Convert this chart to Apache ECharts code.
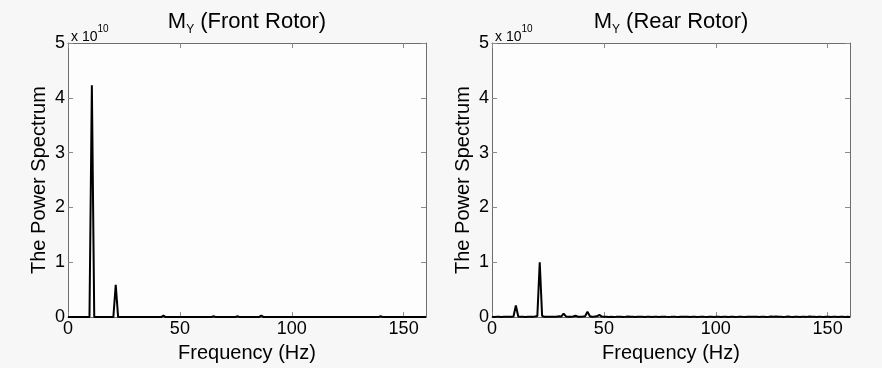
<!DOCTYPE html>
<html>
<head>
<meta charset="utf-8">
<script src="https://cdn.jsdelivr.net/npm/echarts@6/dist/echarts.min.js"></script>
<style>
  html, body { margin: 0; padding: 0; background: #f7f7f7; }
  #chart { width: 882px; height: 368px; }
</style>
</head>
<body>
<div id="chart"></div>
<script>
// frequency bins: 151 bins spanning 0..160 Hz
const binHz = 160 / 150;
const xTicks = [0, 50, 100, 150];
const yTicks = [0, 1, 2, 3, 4, 5];

// power spectrum in units of 1e10, one value per bin
const frontRotor = [
  0, 0, 0, 0, 0, 0, 0, 0, 0, 0,
  4.23, 0, 0, 0, 0, 0, 0, 0, 0, 0,
  0.59, 0, 0, 0, 0, 0, 0, 0, 0, 0,
  0, 0, 0, 0, 0, 0, 0, 0, 0, 0,
  0.025, 0, 0, 0, 0, 0, 0, 0, 0, 0,
  0, 0, 0, 0, 0, 0, 0, 0, 0, 0,
  0, 0.015, 0, 0, 0, 0, 0, 0, 0, 0,
  0, 0.015, 0, 0, 0, 0, 0, 0, 0, 0,
  0, 0.03, 0, 0, 0, 0, 0, 0, 0, 0,
  0, 0, 0, 0, 0, 0, 0, 0, 0, 0,
  0, 0, 0, 0, 0, 0, 0, 0, 0, 0,
  0, 0, 0, 0, 0, 0, 0, 0, 0, 0,
  0, 0, 0, 0, 0, 0, 0, 0, 0, 0,
  0, 0.015, 0, 0, 0, 0, 0, 0, 0, 0,
  0, 0, 0, 0, 0, 0, 0, 0, 0, 0,
  0
];

const rearRotor = [
  0.005, 0.004, 0.006, 0.005, 0.004, 0.005, 0.006, 0.005, 0.008, 0.012,
  0.21, 0.012, 0.006, 0.005, 0.004, 0.006, 0.005, 0.007, 0.01, 0.02,
  1.0, 0.02, 0.008, 0.006, 0.005, 0.007, 0.006, 0.008, 0.015, 0.01,
  0.065, 0.012, 0.006, 0.008, 0.01, 0.025, 0.008, 0.006, 0.01, 0.015,
  0.1, 0.015, 0.008, 0.01, 0.015, 0.04, 0.01, 0.006, 0.005, 0.004,
  0.006, 0.004, 0.005, 0.008, 0.006, 0.004, 0.005, 0.01, 0.006, 0.005,
  0.004, 0.008, 0.006, 0.005, 0.004, 0.006, 0.005, 0.004, 0.006, 0.005,
  0.004, 0.006, 0.008, 0.005, 0.004, 0.005, 0.007, 0.005, 0.004, 0.006,
  0.005, 0.008, 0.006, 0.004, 0.005, 0.006, 0.004, 0.005, 0.007, 0.005,
  0.004, 0.006, 0.005, 0.004, 0.006, 0.005, 0.004, 0.005, 0.006, 0.004,
  0.005, 0.006, 0.004, 0.005, 0.007, 0.005, 0.004, 0.006, 0.005, 0.008,
  0.006, 0.005, 0.004, 0.006, 0.005, 0.004, 0.006, 0.01, 0.008, 0.012,
  0.006, 0.005, 0.004, 0.006, 0.01, 0.005, 0.004, 0.006, 0.005, 0.004,
  0.005, 0.006, 0.004, 0.012, 0.006, 0.005, 0.004, 0.008, 0.005, 0.004,
  0.006, 0.005, 0.004, 0.006, 0.005, 0.004, 0.006, 0.005, 0.004, 0.005,
  0.004
];

const panels = [
  { title: 'Front Rotor', values: frontRotor, left: 68 },
  { title: 'Rear Rotor', values: rearRotor, left: 492 }
];

const FONT = 'Liberation Sans, Arial, sans-serif';
const frameColor = '#6e6e6e';
const tickColor = '#8a8a8a';

const option = {
  backgroundColor: '#f7f7f7',
  animation: false,
  textStyle: { fontFamily: FONT, color: '#000' },
  title: [],
  grid: [],
  xAxis: [],
  yAxis: [],
  series: []
};

panels.forEach((p, g) => {
  option.grid.push({
    left: p.left, top: 43, width: 358, height: 278,
    show: true, backgroundColor: '#fdfdfd', borderWidth: 0
  });

  // title M_Y (...)
  option.title.push({
    text: '{m|M}{s|Y}{m| (' + p.title + ')}',
    left: p.left + 174, top: 3, textAlign: 'center',
    textStyle: {
      rich: {
        m: { fontFamily: FONT, fontSize: 22, fontWeight: 'normal', lineHeight: 28, color: '#000' },
        s: { fontFamily: FONT, fontSize: 12, fontWeight: 'normal', lineHeight: 12, color: '#000', verticalAlign: 'bottom' }
      }
    }
  });
  // exponent marker
  option.title.push({
    text: '{a|x 10}{b|10}',
    left: p.left - 2, top: 19,
    textStyle: {
      rich: {
        a: { fontFamily: FONT, fontSize: 14, fontWeight: 'normal', lineHeight: 20, color: '#000', verticalAlign: 'bottom' },
        b: { fontFamily: FONT, fontSize: 10, fontWeight: 'normal', lineHeight: 10, color: '#000', verticalAlign: 'top' }
      }
    }
  });

  const lineStyle = { color: frameColor, width: 1 };
  option.xAxis.push({
    gridIndex: g, type: 'value', min: 0, max: 160, position: 'bottom',
    axisLine: { show: true, onZero: false, lineStyle },
    axisTick: { show: true, inside: true, length: 5, customValues: xTicks, lineStyle: { color: tickColor } },
    axisLabel: { customValues: xTicks, fontFamily: FONT, fontSize: 18, color: '#000', margin: 3 },
    splitLine: { show: false },
    name: 'Frequency (Hz)', nameLocation: 'middle', nameGap: 22,
    nameTextStyle: { fontFamily: FONT, fontSize: 20, color: '#000' }
  });
  option.xAxis.push({
    gridIndex: g, type: 'value', min: 0, max: 160, position: 'top',
    axisLine: { show: true, onZero: false, lineStyle },
    axisTick: { show: true, inside: true, length: 5, customValues: xTicks, lineStyle: { color: tickColor } },
    axisLabel: { show: false },
    splitLine: { show: false }
  });
  option.yAxis.push({
    gridIndex: g, type: 'value', min: 0, max: 5, interval: 1, position: 'left',
    axisLine: { show: true, onZero: false, lineStyle },
    axisTick: { show: true, inside: true, length: 5, customValues: yTicks, lineStyle: { color: tickColor } },
    axisLabel: { customValues: yTicks, fontFamily: FONT, fontSize: 18, color: '#000', margin: 3 },
    splitLine: { show: false },
    name: 'The Power Spectrum', nameLocation: 'middle', nameGap: 19,
    nameTextStyle: { fontFamily: FONT, fontSize: 20, color: '#000' }
  });
  option.yAxis.push({
    gridIndex: g, type: 'value', min: 0, max: 5, interval: 1, position: 'right',
    axisLine: { show: true, onZero: false, lineStyle },
    axisTick: { show: true, inside: true, length: 5, customValues: yTicks, lineStyle: { color: tickColor } },
    axisLabel: { show: false },
    splitLine: { show: false }
  });

  option.series.push({
    type: 'line',
    xAxisIndex: g * 2, yAxisIndex: g * 2,
    data: p.values.map((v, i) => [i * binHz, v]),
    showSymbol: false,
    lineStyle: { color: '#000', width: 2 },
    clip: true
  });
});

const chart = echarts.init(document.getElementById('chart'));
chart.setOption(option);
</script>
</body>
</html>
